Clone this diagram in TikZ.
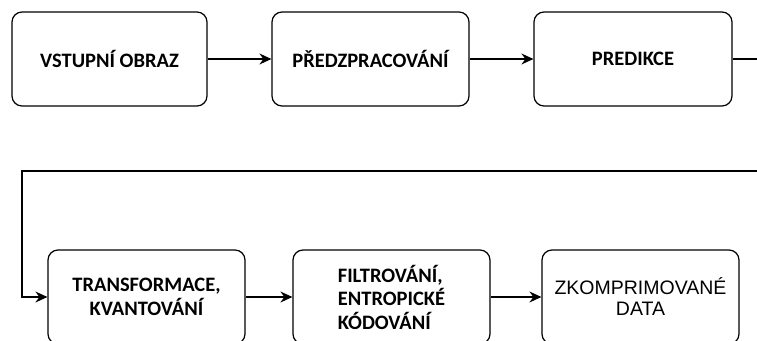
\documentclass[tikz,border=0pt]{standalone}
\usepackage{fontspec}
\setmainfont{Carlito}
\newfontfamily\plainsans{Liberation Sans}
\usetikzlibrary{arrows.meta}

\tikzset{
  stage/.style={draw, line width=1.2pt, rounded corners=10pt,
    minimum height=94pt, inner sep=2pt,
    font=\fontsize{20.5}{23.5}\selectfont\bfseries, align=center},
  result/.style={stage, font=\plainsans\fontsize{19.5}{21}\selectfont},
  flow/.style={line width=1.2pt,
    -{Stealth[length=12pt,width=11pt,inset=4pt]}},
}

\begin{document}
\begin{tikzpicture}[x=1pt,y=-1pt]
  \useasboundingbox (0,0) rectangle (757,340);
  \clip (0,0) rectangle (757,340);

  % first row
  \node[stage, minimum width=195pt] (input) at (109.5,59) {VSTUPNÍ OBRAZ};
  \node[stage, minimum width=197pt] (prep)  at (370.5,59) {PŘEDZPRACOVÁNÍ};
  \node[stage, minimum width=198pt] (pred)  at (633,59)   {PREDIKCE};

  % second row
  \node[stage, minimum width=197pt] (trans) at (146.5,297) {TRANSFORMACE,\\KVANTOVÁNÍ};
  \node[stage, minimum width=197pt, align=left] (entr) at (391.5,297)
    {FILTROVÁNÍ,\\ENTROPICKÉ\\KÓDOVÁNÍ};
  \node[result, minimum width=197pt] (out) at (640.5,297) {ZKOMPRIMOVANÉ\\DATA};

  % connectors
  \draw[flow] (input) -- (prep);
  \draw[flow] (prep) -- (pred);
  \draw[flow] (pred.east) -- (790,59) -- (790,171) -- (22,171) |- (trans.west);
  \draw[flow] (trans) -- (entr);
  \draw[flow] (entr) -- (out);
\end{tikzpicture}
\end{document}
